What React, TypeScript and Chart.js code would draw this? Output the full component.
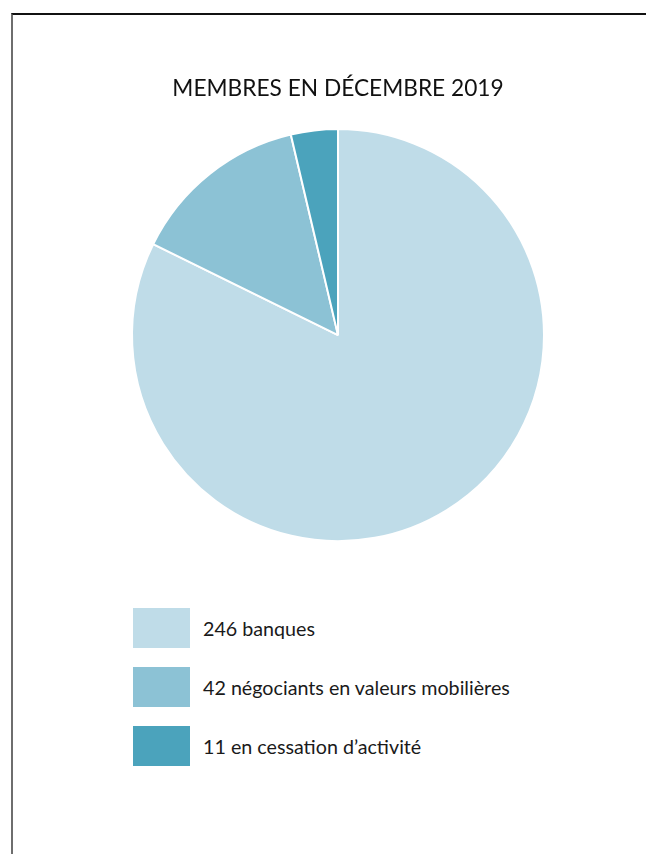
import React, { useEffect, useRef } from "react";
import { Chart, registerables } from "chart.js";

Chart.register(...registerables);

const TITLE = "MEMBRES EN DÉCEMBRE 2019";
const labels = ["246 banques", "42 négociants en valeurs mobilières", "11 en cessation d’activité"];
const values = [246, 42, 11];
const colors = ["#BFDCE8", "#8CC2D5", "#4BA3BC"];

const FONT = "Lato, 'Open Sans', sans-serif";

export default function App() {
  const ref = useRef<HTMLCanvasElement | null>(null);

  useEffect(() => {
    if (!ref.current) return;
    const chart = new Chart(ref.current, {
      type: "pie",
      data: {
        labels,
        datasets: [
          {
            data: values,
            backgroundColor: colors,
            borderColor: "#ffffff",
            borderWidth: 2,
          },
        ],
      },
      options: {
        responsive: false,
        animation: false,
        radius: 206,
        layout: { padding: { left: 30, right: 0, top: 0, bottom: 0 } },
        plugins: {
          legend: { display: false },
          tooltip: { enabled: false },
          title: {
            display: true,
            text: TITLE,
            color: "#111111",
            font: { family: FONT, size: 22.7, weight: "normal", lineHeight: 1.2 },
            padding: { top: 75, bottom: 9 },
          },
        },
      },
    });
    return () => chart.destroy();
  }, []);

  return (
    <div style={{ position: "absolute", left: 0, top: 0, width: 646, height: 854, background: "#fff", overflow: "hidden" }}>
      <div
        style={{
          position: "absolute",
          left: 11,
          top: 13,
          width: 700,
          height: 900,
          borderTop: "2px solid #111",
          borderLeft: "2px solid #6e6e6e",
          boxSizing: "border-box",
        }}
      />
      <canvas ref={ref} width={646} height={559} style={{ position: "absolute", left: 0, top: 0 }} />
      {labels.map((l, i) => (
        <div key={i} style={{ position: "absolute", left: 133, top: 608 + i * 59, height: 40, display: "flex", alignItems: "center" }}>
          <div style={{ width: 57, height: 40, background: colors[i] }} />
          <span style={{ marginLeft: 13, fontFamily: FONT, fontSize: 19.7, color: "#1a1a1a", whiteSpace: "nowrap" }}>{l}</span>
        </div>
      ))}
    </div>
  );
}
